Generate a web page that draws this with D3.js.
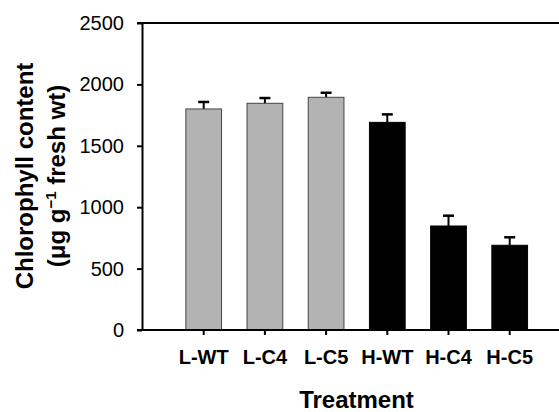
<!DOCTYPE html>
<html>
<head>
<meta charset="utf-8">
<script src="https://cdn.jsdelivr.net/npm/d3@7"></script>
<style>
  body { margin: 0; background: #fff; }
  svg { display: block; font-family: Arial, "Liberation Sans", Helvetica, sans-serif; }
</style>
</head>
<body>
<svg id="chart" width="559" height="412"></svg>
<script>
// chart data
const treatments = ['L-WT', 'L-C4', 'L-C5', 'H-WT', 'H-C4', 'H-C5'];
const chlorophyll = [1800, 1846, 1895, 1691, 847, 690];
const errors = [57, 43, 37, 65, 84, 65];
const light = ['low', 'low', 'low', 'high', 'high', 'high'];
const yTicks = [0, 500, 1000, 1500, 2000, 2500];

const drawChart = function () {
    var plotLeft = 142,
        plotTop = 23,
        plotBottom = 330,
        plotRight = 571,
        lowColor = '#b3b3b3',
        highColor = '#000';

    var svg = d3.select('#chart');

    const y = d3.scaleLinear()
                .domain([0, 2500])
                .range([plotBottom, plotTop]);

    const x = d3.scaleBand()
                .domain(treatments)
                .range([173.1, 540.3])
                .paddingInner(0.4)
                .paddingOuter(0.2);

    var rows = treatments.map(function (t, i) {
        return { name: t, value: chlorophyll[i], err: errors[i], light: light[i] };
    });

    // Error bars (drawn first so bar top covers the stem base)
    var eb = svg.append('g').attr('class', 'errorbars');
    rows.forEach(function (d) {
        var cx = x(d.name) + x.bandwidth() / 2;
        eb.append('line')
            .attr('x1', cx).attr('x2', cx)
            .attr('y1', y(d.value)).attr('y2', y(d.value + d.err))
            .attr('stroke', '#000').attr('stroke-width', 2);
        eb.append('line')
            .attr('x1', cx - 5.5).attr('x2', cx + 5.5)
            .attr('y1', y(d.value + d.err)).attr('y2', y(d.value + d.err))
            .attr('stroke', '#000').attr('stroke-width', 2.5);
    });

    // Bars
    svg.append('g')
        .selectAll('rect')
        .data(rows)
        .join('rect')
        .attr('x', d => x(d.name) + 0.5)
        .attr('y', d => y(d.value))
        .attr('width', x.bandwidth() - 1)
        .attr('height', d => y(0) - y(d.value))
        .attr('fill', d => d.light === 'low' ? lowColor : highColor)
        .attr('stroke', d => d.light === 'low' ? '#444' : '#000')
        .attr('stroke-width', 1);

    // Top frame line
    svg.append('line')
        .attr('x1', plotLeft - 5).attr('x2', plotRight)
        .attr('y1', plotTop).attr('y2', plotTop)
        .attr('stroke', '#000').attr('stroke-width', 2);

    // Y axis
    var yAxis = svg.append('g')
        .attr('transform', 'translate(' + plotLeft + ',0)')
        .call(d3.axisLeft(y).tickValues(yTicks).tickFormat(d3.format('d'))
                .tickSize(5).tickSizeOuter(0).tickPadding(13));
    yAxis.select('.domain').attr('stroke-width', 2);
    yAxis.selectAll('.tick line').attr('stroke-width', 2);
    yAxis.selectAll('text')
        .attr('font-size', 20)
        .attr('font-family', 'Arial, "Liberation Sans", sans-serif')
        .attr('fill', '#000');

    // X axis
    var xAxis = svg.append('g')
        .attr('transform', 'translate(0,' + plotBottom + ')')
        .call(d3.axisBottom(x).tickSize(5).tickSizeOuter(0).tickPadding(15));
    xAxis.select('.domain').attr('d', 'M' + (plotLeft - 5) + ',0H' + plotRight).attr('stroke-width', 2);
    xAxis.selectAll('.tick line').attr('stroke-width', 2);
    xAxis.selectAll('text')
        .attr('font-size', 20)
        .attr('font-weight', 'bold')
        .attr('font-family', 'Arial, "Liberation Sans", sans-serif')
        .attr('fill', '#000');

    // Axis titles
    svg.append('text')
        .attr('x', (plotLeft + plotRight) / 2)
        .attr('y', 408)
        .attr('text-anchor', 'middle')
        .attr('font-size', 24)
        .attr('font-weight', 'bold')
        .text('Treatment');

    var yTitle = svg.append('text')
        .attr('transform', 'translate(33,176) rotate(-90)')
        .attr('text-anchor', 'middle')
        .attr('font-size', 24)
        .attr('font-weight', 'bold');
    yTitle.append('tspan')
        .attr('x', 0).attr('y', 0)
        .text('Chlorophyll content');
    var line2 = yTitle.append('tspan')
        .attr('x', 0).attr('y', 32);
    line2.append('tspan').text('(\u03bcg g');
    line2.append('tspan').attr('dy', -9).attr('font-size', 15).text('\u22121');
    line2.append('tspan').attr('dy', 9).text(' fresh wt)');
};

drawChart();
</script>
</body>
</html>
